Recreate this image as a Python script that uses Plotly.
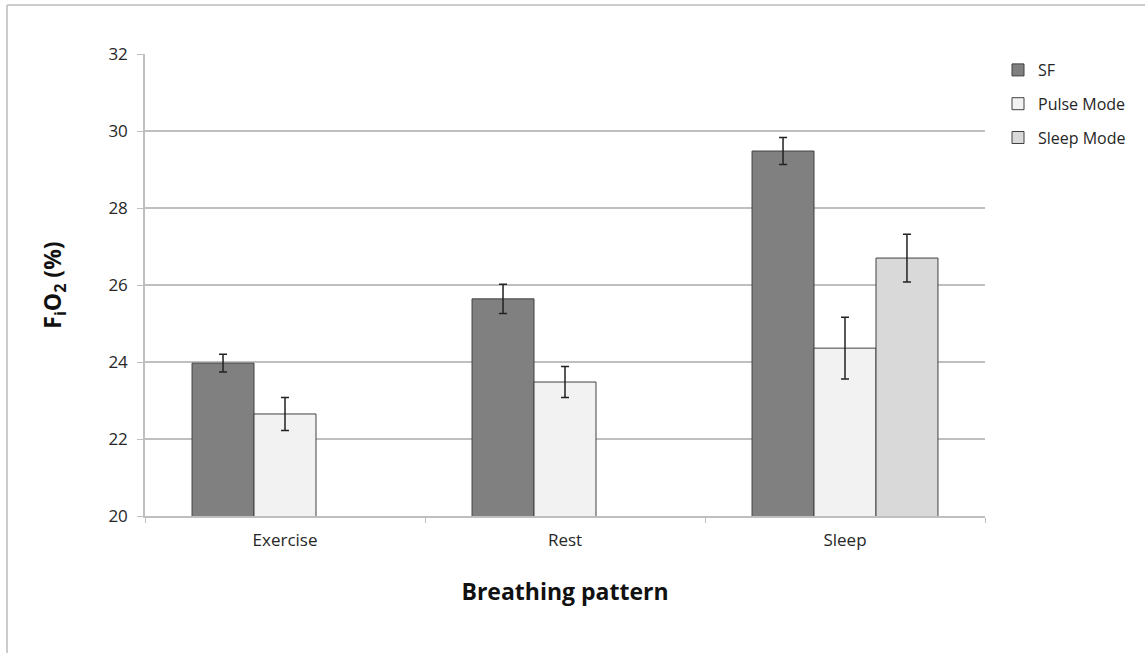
import plotly.graph_objects as go

categories = ["Exercise", "Rest", "Sleep"]
sf_values = [23.97, 25.64, 29.48]
sf_err = [0.23, 0.38, 0.35]
pulse_values = [22.65, 23.48, 24.36]
pulse_err = [0.43, 0.40, 0.80]
sleep_values = [None, None, 26.70]
sleep_err = [None, None, 0.62]

W, H = 1146, 653
ML, MR, MT, MB = 145, 161, 54, 137
PW, PH = W - ML - MR, H - MT - MB

def px_x(p):
    return (p - ML) / PW

def px_y(p):
    return (H - MB - p) / PH

series = [
    ("SF", sf_values, sf_err, "#808080"),
    ("Pulse Mode", pulse_values, pulse_err, "#f2f2f2"),
    ("Sleep Mode", sleep_values, sleep_err, "#d9d9d9"),
]

fig = go.Figure()
for name, vals, errs, color in series:
    fig.add_trace(go.Bar(
        name=name,
        x=categories,
        y=vals,
        legendgroup=name,
        marker=dict(color=color, line=dict(color="#404040", width=1)),
        error_y=dict(type="data", array=errs, visible=True,
                     color="#222222", thickness=1.5, width=4),
    ))

FONT = "Open Sans, Liberation Sans, sans-serif"
axis_font = dict(family=FONT, size=17, color="#262626")

fig.update_layout(
    width=W, height=H,
    margin=dict(l=ML, r=MR, t=MT, b=MB),
    paper_bgcolor="white",
    plot_bgcolor="white",
    barmode="group",
    bargap=0.336,
    bargroupgap=0,
    showlegend=True,
    legend=dict(
        x=px_x(998), y=px_y(53), xanchor="left", yanchor="top",
        font=dict(family=FONT, size=16, color="#262626"),
        tracegroupgap=10,
        itemwidth=30,
        bgcolor="rgba(0,0,0,0)",
    ),
    xaxis=dict(
        type="category",
        tickfont=axis_font,
        showline=True, linecolor="#bfbfbf", linewidth=1.5,
        ticks="outside", tickson="boundaries", ticklen=5, tickcolor="#bfbfbf",
        ticklabelstandoff=8,
        showgrid=False,
        title=dict(text="<b>Breathing pattern</b>",
                   font=dict(family=FONT, size=23, color="#111111"),
                   standoff=34),
    ),
    yaxis=dict(
        range=[20, 32],
        tickmode="linear", tick0=20, dtick=2,
        tickfont=axis_font,
        showline=True, linecolor="#bfbfbf", linewidth=1.5,
        ticks="outside", ticklen=6, tickcolor="#bfbfbf",
        ticklabelstandoff=6,
        showgrid=True, gridcolor="#bfbfbf", gridwidth=1.5,
        zeroline=False,
        title=dict(text="<b>F<sub>i</sub>O<sub>2</sub> (%)</b>",
                   font=dict(family=FONT, size=23, color="#111111"),
                   standoff=40),
    ),
    shapes=[
        dict(type="line", xref="paper", yref="paper",
             x0=px_x(7), x1=px_x(1145), y0=px_y(5), y1=px_y(5),
             line=dict(color="#cccccc", width=2)),
        dict(type="line", xref="paper", yref="paper",
             x0=px_x(7), x1=px_x(7), y0=px_y(5), y1=px_y(653),
             line=dict(color="#cccccc", width=2)),
    ],
)

fig.write_html("out.html")
